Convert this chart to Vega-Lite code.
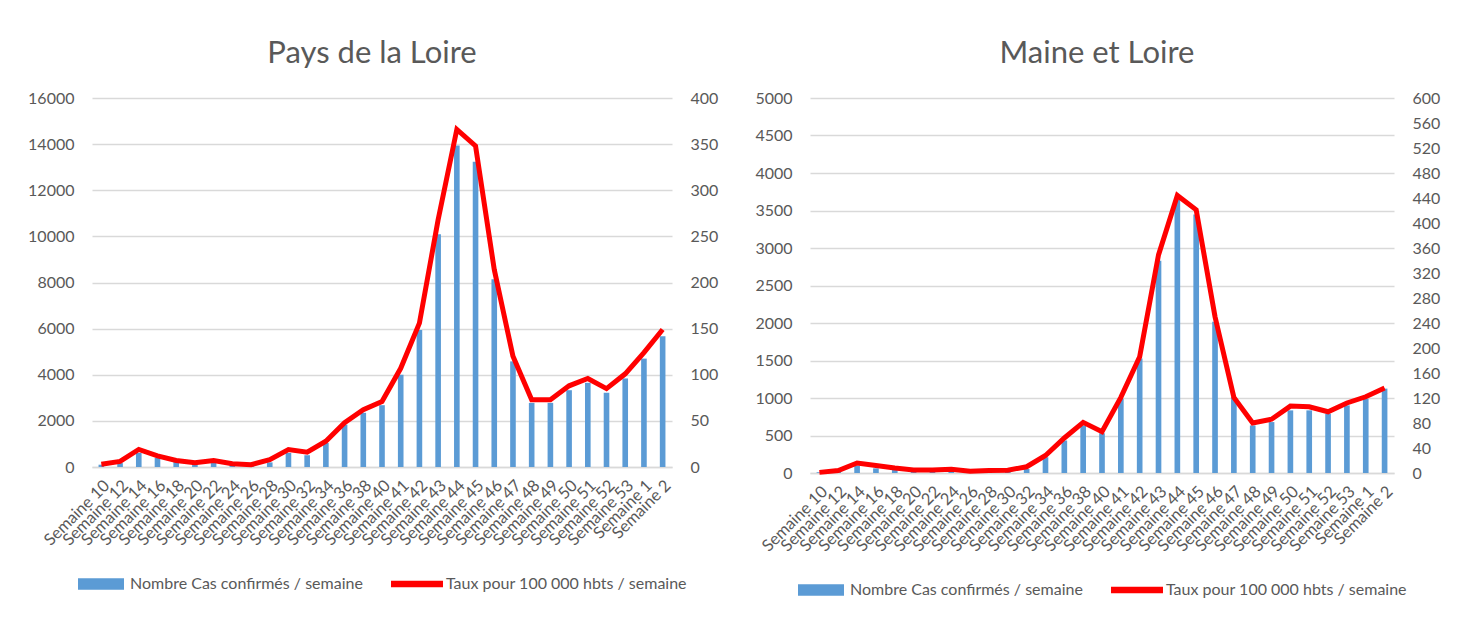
{
  "$schema": "https://vega.github.io/schema/vega-lite/v6.json",
  "padding": {"left": 27, "top": 38, "right": 5, "bottom": 5},
  "background": "white",
  "datasets": {
    "pdl": [
      {"semaine": "Semaine 10", "cas": 100, "taux": 3},
      {"semaine": "Semaine 12", "cas": 170, "taux": 6},
      {"semaine": "Semaine 14", "cas": 610, "taux": 19},
      {"semaine": "Semaine 16", "cas": 390, "taux": 12},
      {"semaine": "Semaine 18", "cas": 250, "taux": 7},
      {"semaine": "Semaine 20", "cas": 145, "taux": 4.5},
      {"semaine": "Semaine 22", "cas": 200, "taux": 7},
      {"semaine": "Semaine 24", "cas": 100, "taux": 3.6},
      {"semaine": "Semaine 26", "cas": 60, "taux": 2.5},
      {"semaine": "Semaine 28", "cas": 200, "taux": 8},
      {"semaine": "Semaine 30", "cas": 610, "taux": 19},
      {"semaine": "Semaine 32", "cas": 510, "taux": 16},
      {"semaine": "Semaine 34", "cas": 1040, "taux": 28},
      {"semaine": "Semaine 36", "cas": 1840, "taux": 48},
      {"semaine": "Semaine 38", "cas": 2350, "taux": 62},
      {"semaine": "Semaine 40", "cas": 2680, "taux": 71},
      {"semaine": "Semaine 41", "cas": 4000, "taux": 107},
      {"semaine": "Semaine 42", "cas": 5940, "taux": 156},
      {"semaine": "Semaine 43", "cas": 10090, "taux": 268},
      {"semaine": "Semaine 44", "cas": 13940, "taux": 366},
      {"semaine": "Semaine 45", "cas": 13240, "taux": 348},
      {"semaine": "Semaine 46", "cas": 8140, "taux": 214},
      {"semaine": "Semaine 47", "cas": 4580, "taux": 120},
      {"semaine": "Semaine 48", "cas": 2780, "taux": 73},
      {"semaine": "Semaine 49", "cas": 2780, "taux": 73},
      {"semaine": "Semaine 50", "cas": 3330, "taux": 88},
      {"semaine": "Semaine 51", "cas": 3650, "taux": 96},
      {"semaine": "Semaine 52", "cas": 3220, "taux": 85},
      {"semaine": "Semaine 53", "cas": 3840, "taux": 101},
      {"semaine": "Semaine 1", "cas": 4700, "taux": 124},
      {"semaine": "Semaine 2", "cas": 5670, "taux": 149}
    ],
    "mel": [
      {"semaine": "Semaine 10", "cas": 10, "taux": 1},
      {"semaine": "Semaine 12", "cas": 30, "taux": 4},
      {"semaine": "Semaine 14", "cas": 98, "taux": 16},
      {"semaine": "Semaine 16", "cas": 62, "taux": 12},
      {"semaine": "Semaine 18", "cas": 45, "taux": 8},
      {"semaine": "Semaine 20", "cas": 30, "taux": 5},
      {"semaine": "Semaine 22", "cas": 35, "taux": 5},
      {"semaine": "Semaine 24", "cas": 40, "taux": 6},
      {"semaine": "Semaine 26", "cas": 20, "taux": 3},
      {"semaine": "Semaine 28", "cas": 30, "taux": 4},
      {"semaine": "Semaine 30", "cas": 35, "taux": 4.5},
      {"semaine": "Semaine 32", "cas": 54, "taux": 10},
      {"semaine": "Semaine 34", "cas": 210, "taux": 28},
      {"semaine": "Semaine 36", "cas": 433, "taux": 56},
      {"semaine": "Semaine 38", "cas": 634, "taux": 81},
      {"semaine": "Semaine 40", "cas": 530, "taux": 66},
      {"semaine": "Semaine 41", "cas": 991, "taux": 121},
      {"semaine": "Semaine 42", "cas": 1527, "taux": 186},
      {"semaine": "Semaine 43", "cas": 2830, "taux": 349},
      {"semaine": "Semaine 44", "cas": 3647, "taux": 444},
      {"semaine": "Semaine 45", "cas": 3446, "taux": 421},
      {"semaine": "Semaine 46", "cas": 2018, "taux": 250},
      {"semaine": "Semaine 47", "cas": 1013, "taux": 121},
      {"semaine": "Semaine 48", "cas": 634, "taux": 80},
      {"semaine": "Semaine 49", "cas": 679, "taux": 86},
      {"semaine": "Semaine 50", "cas": 835, "taux": 107},
      {"semaine": "Semaine 51", "cas": 835, "taux": 106},
      {"semaine": "Semaine 52", "cas": 790, "taux": 98},
      {"semaine": "Semaine 53", "cas": 902, "taux": 112},
      {"semaine": "Semaine 1", "cas": 991, "taux": 122},
      {"semaine": "Semaine 2", "cas": 1125, "taux": 136}
    ]
  },
  "config": {
    "font": "Lato",
    "view": {"stroke": null},
    "axis": {
      "labelFont": "Lato",
      "labelColor": "#595959",
      "labelFontSize": 16,
      "ticks": false,
      "domain": false,
      "title": null,
      "gridColor": "#D9D9D9",
      "gridWidth": 1.5
    },
    "title": {"font": "Lato", "fontSize": 31, "fontWeight": "normal", "color": "#595959", "offset": 20},
    "legend": {
      "layout": {"bottom": {"anchor": "middle"}}
    }
  },
  "resolve": {"scale": {"color": "independent"}, "legend": {"color": "independent"}},
  "spacing": 36,
  "hconcat": [
    {
      "title": {"text": "Pays de la Loire", "dx": -10},
      "width": 580,
      "height": 369,
      "data": {"name": "pdl"},
      "encoding": {
        "x": {
          "field": "semaine", "type": "nominal", "sort": null,
          "scale": {"paddingInner": 0.7, "paddingOuter": 0.35},
          "axis": {"labelAngle": -45, "labelFontSize": 16.5, "domain": true, "domainColor": "#D9D9D9", "domainWidth": 1.5, "labelPadding": 10}
        }
      },
      "layer": [
        {
          "mark": {"type": "bar"},
          "encoding": {
            "y": {"field": "cas", "type": "quantitative", "scale": {"domain": [0, 16000]},
              "axis": {"orient": "left", "grid": true, "values": [0, 2000, 4000, 6000, 8000, 10000, 12000, 14000, 16000], "format": "d", "labelPadding": 18}},
            "color": {
              "datum": "Nombre Cas confirmés / semaine",
              "type": "nominal",
              "scale": {"domain": ["Nombre Cas confirmés / semaine", "Taux pour 100 000 hbts / semaine"], "range": ["#5B9BD5", "#FF0000"]},
              "legend": {
                "title": null, "orient": "bottom", "direction": "horizontal", "offset": 12,
                "labelFont": "Lato", "labelFontSize": 16, "labelColor": "#595959", "labelLimit": 0,
                "symbolSize": 2116, "labelOffset": 6, "columnPadding": 28,
                "encode": {"symbols": {"update": {
                  "shape": {"signal": "datum.index === 0 ? 'M-1,-0.25H1V0.25H-1Z' : 'M-1.13,-0.14H1.13V0.14H-1.13Z'"},
                  "fill": {"signal": "datum.index === 0 ? '#5B9BD5' : '#FF0000'"},
                  "stroke": {"value": "transparent"},
                  "strokeWidth": {"value": 0},
                  "opacity": {"value": 1}
                }}}
              }
            }
          }
        },
        {
          "mark": {"type": "line", "strokeWidth": 5},
          "encoding": {
            "y": {"field": "taux", "type": "quantitative", "scale": {"domain": [0, 400]},
              "axis": {"orient": "right", "grid": false, "values": [0, 50, 100, 150, 200, 250, 300, 350, 400], "format": "d", "labelPadding": 18}},
            "color": {"datum": "Taux pour 100 000 hbts / semaine", "type": "nominal"}
          }
        }
      ],
      "resolve": {"scale": {"y": "independent"}}
    },
    {
      "title": {"text": "Maine et Loire", "dx": -5},
      "width": 584,
      "height": 375,
      "data": {"name": "mel"},
      "encoding": {
        "x": {
          "field": "semaine", "type": "nominal", "sort": null,
          "scale": {"paddingInner": 0.7, "paddingOuter": 0.35},
          "axis": {"labelAngle": -45, "labelFontSize": 16.5, "domain": true, "domainColor": "#D9D9D9", "domainWidth": 1.5, "labelPadding": 10}
        }
      },
      "layer": [
        {
          "mark": {"type": "bar"},
          "encoding": {
            "y": {"field": "cas", "type": "quantitative", "scale": {"domain": [0, 5000]},
              "axis": {"orient": "left", "grid": true, "values": [0, 500, 1000, 1500, 2000, 2500, 3000, 3500, 4000, 4500, 5000], "format": "d", "labelPadding": 18}},
            "color": {
              "datum": "Nombre Cas confirmés / semaine",
              "type": "nominal",
              "scale": {"domain": ["Nombre Cas confirmés / semaine", "Taux pour 100 000 hbts / semaine"], "range": ["#5B9BD5", "#FF0000"]},
              "legend": {
                "title": null, "orient": "bottom", "direction": "horizontal", "offset": 12,
                "labelFont": "Lato", "labelFontSize": 16, "labelColor": "#595959", "labelLimit": 0,
                "symbolSize": 2116, "labelOffset": 6, "columnPadding": 28,
                "encode": {"symbols": {"update": {
                  "shape": {"signal": "datum.index === 0 ? 'M-1,-0.25H1V0.25H-1Z' : 'M-1.13,-0.14H1.13V0.14H-1.13Z'"},
                  "fill": {"signal": "datum.index === 0 ? '#5B9BD5' : '#FF0000'"},
                  "stroke": {"value": "transparent"},
                  "strokeWidth": {"value": 0},
                  "opacity": {"value": 1}
                }}}
              }
            }
          }
        },
        {
          "mark": {"type": "line", "strokeWidth": 5},
          "encoding": {
            "y": {"field": "taux", "type": "quantitative", "scale": {"domain": [0, 600]},
              "axis": {"orient": "right", "grid": false, "values": [0, 40, 80, 120, 160, 200, 240, 280, 320, 360, 400, 440, 480, 520, 560, 600], "format": "d", "labelPadding": 18}},
            "color": {"datum": "Taux pour 100 000 hbts / semaine", "type": "nominal"}
          }
        }
      ],
      "resolve": {"scale": {"y": "independent"}}
    }
  ]
}
